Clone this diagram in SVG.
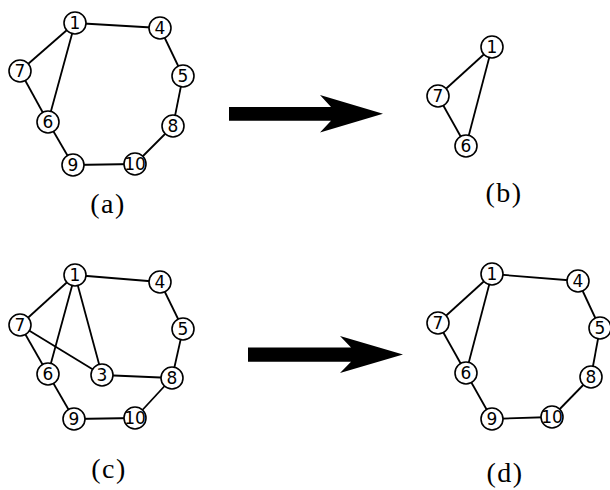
<svg xmlns="http://www.w3.org/2000/svg" width="610" height="490" viewBox="0 0 610 490">
<style>
.e{stroke:#000;stroke-width:1.8;fill:none}
.n circle{fill:#fff;stroke:#000;stroke-width:1.6}
.n text{font-family:"DejaVu Sans",sans-serif;font-size:17px;text-anchor:middle;fill:#000}
.lab{font-family:"Liberation Serif","Times New Roman",serif;font-size:28px;text-anchor:middle;fill:#000;letter-spacing:1.5px}
.arr{fill:#000}
</style>
<rect width="610" height="490" fill="#fff"/>
<g id="connectors">
<!-- (a) -->
<line class="e" x1="75" y1="23" x2="160" y2="28"/>
<line class="e" x1="75" y1="23" x2="20" y2="71"/>
<line class="e" x1="75" y1="23" x2="48" y2="122"/>
<line class="e" x1="20" y1="71" x2="48" y2="122"/>
<line class="e" x1="160" y1="28" x2="183" y2="76"/>
<line class="e" x1="183" y1="76" x2="173" y2="126"/>
<line class="e" x1="173" y1="126" x2="135" y2="164"/>
<line class="e" x1="48" y1="122" x2="73" y2="165"/>
<line class="e" x1="73" y1="165" x2="135" y2="164"/>
<!-- (b) -->
<line class="e" x1="492" y1="47" x2="438" y2="96"/>
<line class="e" x1="492" y1="47" x2="466" y2="146"/>
<line class="e" x1="438" y1="96" x2="466" y2="146"/>
<!-- (c) -->
<line class="e" x1="75" y1="275" x2="160" y2="282"/>
<line class="e" x1="75" y1="275" x2="20" y2="325"/>
<line class="e" x1="75" y1="275" x2="48" y2="374"/>
<line class="e" x1="75" y1="275" x2="102" y2="375"/>
<line class="e" x1="20" y1="325" x2="48" y2="374"/>
<line class="e" x1="20" y1="325" x2="102" y2="375"/>
<line class="e" x1="102" y1="375" x2="172" y2="378"/>
<line class="e" x1="160" y1="282" x2="183" y2="329"/>
<line class="e" x1="183" y1="329" x2="172" y2="378"/>
<line class="e" x1="172" y1="378" x2="135" y2="418"/>
<line class="e" x1="48" y1="374" x2="74" y2="419"/>
<line class="e" x1="74" y1="419" x2="135" y2="418"/>
<!-- (d) -->
<line class="e" x1="492" y1="274" x2="578" y2="281"/>
<line class="e" x1="492" y1="274" x2="438" y2="323"/>
<line class="e" x1="492" y1="274" x2="466" y2="373"/>
<line class="e" x1="438" y1="323" x2="466" y2="373"/>
<line class="e" x1="578" y1="281" x2="600" y2="328"/>
<line class="e" x1="600" y1="328" x2="591" y2="377"/>
<line class="e" x1="591" y1="377" x2="552" y2="417"/>
<line class="e" x1="466" y1="373" x2="492" y2="419"/>
<line class="e" x1="492" y1="419" x2="552" y2="417"/>
<!-- big arrows -->
<path class="arr" d="M229,107 L331,107 L320,95 L383,113.8 L320,132.5 L331,120.7 L229,120.7 Z"/>
<path class="arr" d="M248,347.5 L351,347.5 L340,336 L403,354.5 L340,373 L351,361.7 L248,361.7 Z"/>
</g>
<!-- panel (a) -->
<g id="a1" class="n"><circle cx="75" cy="23" r="11"/><text x="75" y="29.2">1</text></g>
<g id="a4" class="n"><circle cx="160" cy="28" r="11"/><text x="160" y="34.2">4</text></g>
<g id="a7" class="n"><circle cx="20" cy="71" r="11"/><text x="20" y="77.2">7</text></g>
<g id="a5" class="n"><circle cx="183" cy="76" r="11"/><text x="183" y="82.2">5</text></g>
<g id="a6" class="n"><circle cx="48" cy="122" r="11"/><text x="48" y="128.2">6</text></g>
<g id="a8" class="n"><circle cx="173" cy="126" r="11"/><text x="173" y="132.2">8</text></g>
<g id="a9" class="n"><circle cx="73" cy="165" r="11"/><text x="73" y="171.2">9</text></g>
<g id="a10" class="n"><circle cx="135" cy="164" r="11"/><text x="135" y="170.2">10</text></g>
<!-- panel (b) -->
<g id="b1" class="n"><circle cx="492" cy="47" r="11"/><text x="492" y="53.2">1</text></g>
<g id="b7" class="n"><circle cx="438" cy="96" r="11"/><text x="438" y="102.2">7</text></g>
<g id="b6" class="n"><circle cx="466" cy="146" r="11"/><text x="466" y="152.2">6</text></g>
<!-- panel (c) -->
<g id="c1" class="n"><circle cx="75" cy="275" r="11"/><text x="75" y="281.2">1</text></g>
<g id="c4" class="n"><circle cx="160" cy="282" r="11"/><text x="160" y="288.2">4</text></g>
<g id="c7" class="n"><circle cx="20" cy="325" r="11"/><text x="20" y="331.2">7</text></g>
<g id="c5" class="n"><circle cx="183" cy="329" r="11"/><text x="183" y="335.2">5</text></g>
<g id="c6" class="n"><circle cx="48" cy="374" r="11"/><text x="48" y="380.2">6</text></g>
<g id="c3" class="n"><circle cx="102" cy="375" r="11"/><text x="102" y="381.2">3</text></g>
<g id="c8" class="n"><circle cx="172" cy="378" r="11"/><text x="172" y="384.2">8</text></g>
<g id="c9" class="n"><circle cx="74" cy="419" r="11"/><text x="74" y="425.2">9</text></g>
<g id="c10" class="n"><circle cx="135" cy="418" r="11"/><text x="135" y="424.2">10</text></g>
<!-- panel (d) -->
<g id="d1" class="n"><circle cx="492" cy="274" r="11"/><text x="492" y="280.2">1</text></g>
<g id="d4" class="n"><circle cx="578" cy="281" r="11"/><text x="578" y="287.2">4</text></g>
<g id="d7" class="n"><circle cx="438" cy="323" r="11"/><text x="438" y="329.2">7</text></g>
<g id="d5" class="n"><circle cx="600" cy="328" r="11"/><text x="600" y="334.2">5</text></g>
<g id="d6" class="n"><circle cx="466" cy="373" r="11"/><text x="466" y="379.2">6</text></g>
<g id="d8" class="n"><circle cx="591" cy="377" r="11"/><text x="591" y="383.2">8</text></g>
<g id="d9" class="n"><circle cx="492" cy="419" r="11"/><text x="492" y="425.2">9</text></g>
<g id="d10" class="n"><circle cx="552" cy="417" r="11"/><text x="552" y="423.2">10</text></g>
<!-- captions -->
<text class="lab" x="108" y="213">(a)</text>
<text class="lab" x="504" y="202">(b)</text>
<text class="lab" x="109" y="478">(c)</text>
<text class="lab" x="505" y="482">(d)</text>
</svg>
